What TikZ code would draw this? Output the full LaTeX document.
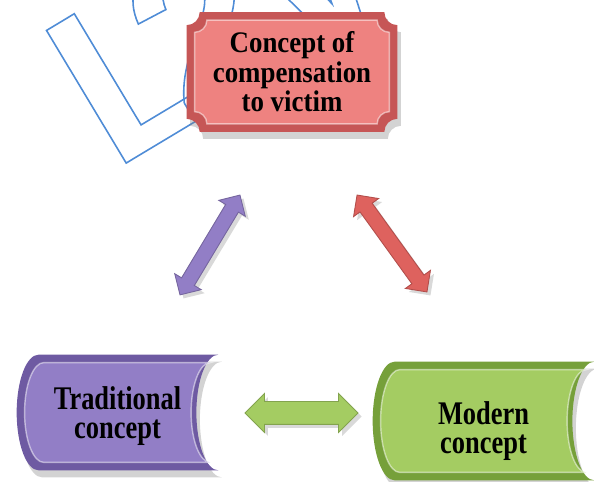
\documentclass[tikz,border=0pt]{standalone}
\usepackage{fontspec}
\setmainfont{Liberation Serif}
\newfontfamily\plaquefont[FakeStretch=0.9]{Liberation Serif}
\newfontfamily\tabfont[FakeStretch=0.8]{Liberation Serif}
\newfontfamily\markfont{Liberation Sans}
\usetikzlibrary{calc,shapes.arrows,shadows,backgrounds}
\pgfdeclarelayer{mark}
\pgfsetlayers{mark,background,main}

\definecolor{plaquerim}{RGB}{198,86,86}
\definecolor{plaquefill}{RGB}{238,130,128}
\definecolor{arrowred}{RGB}{222,98,94}
\definecolor{purplerim}{RGB}{110,90,162}
\definecolor{purplefill}{RGB}{146,126,198}
\definecolor{greenrim}{RGB}{118,160,58}
\definecolor{greenfill}{RGB}{164,204,98}
\definecolor{markblue}{RGB}{80,140,215}

% plaque outline: node, inset, corner radius
\newcommand{\plaquepath}[3]{let \p1=($(#1.south west)+(#2,#2)$), \p2=($(#1.north east)-(#2,#2)$) in
  (\x1+#3,\y2) -- (\x2-#3,\y2) arc[start angle=180,end angle=270,radius=#3]
  -- (\x2,\y1+#3) arc[start angle=90,end angle=180,radius=#3]
  -- (\x1+#3,\y1) arc[start angle=0,end angle=90,radius=#3]
  -- (\x1,\y2-#3) arc[start angle=270,end angle=360,radius=#3] -- cycle}
% tab outline (convex left, concave right): node, inset, bulge
\newcommand{\tabpath}[3]{let \p1=($(#1.south west)+(#2,#2)$), \p2=($(#1.north east)-(#2,#2)$), \n1={0.5*(\y2-\y1)} in
  (\x1+#3,\y2) -- (\x2,\y2) arc[start angle=90,end angle=270,x radius=#3,y radius=\n1]
  -- (\x1+#3,\y1) arc[start angle=270,end angle=90,x radius=#3,y radius=\n1] -- cycle}

\begin{document}
\begin{tikzpicture}[
    x=0.02cm,
    y=0.02cm,
    plaque/.style={
        minimum width=4.2cm,
        minimum height=2.38cm,
        inner sep=0pt,
        align=center,
        font=\plaquefont\bfseries\fontsize{17}{16.8}\selectfont
    },
    tab/.style={
        inner sep=0pt,
        align=center,
        font=\tabfont\bfseries\fontsize{18.8}{16.5}\selectfont
    },
    darrow/.style={
        double arrow,
        draw=#1!80!black,
        fill=#1,
        line width=0.5pt,
        double arrow head extend=0.16cm,
        drop shadow={shadow xshift=2pt, shadow yshift=-2pt, opacity=.3}
    },
    shade/.style={drop shadow={shadow xshift=2pt, shadow yshift=-4pt, opacity=.35}},
    watermark/.style={
        anchor=base west,
        inner sep=0pt,
        rotate=31,
        text=markblue,
        font=\markfont\bfseries\fontsize{128}{128}\selectfont
    }
]
    \useasboundingbox (0,0) rectangle (594,482);

    % Watermark
    \begin{pgfonlayer}{mark}
    \node[watermark] (mark) at (113,311) {\special{pdf:literal direct 1 Tr 0.9 w 0.31 0.55 0.84 RG}L\kern-0.22em 2W\special{pdf:literal direct 0 Tr}};
    \end{pgfonlayer}

    % Concepts
    \node[plaque] (victim) at (292,410) {Concept of\\compensation\\to victim};
    \node[tab, minimum width=4.02cm, minimum height=2.3cm] (trad) at (117.5,69.5) {\rule{0pt}{17.3pt}Traditional\\concept};
    \node[tab, minimum width=4.42cm, minimum height=2.36cm] (modern) at (483.5,61) {\rule{0pt}{25pt}Modern\\concept};

    % Bevelled boxes
    \begin{scope}[on background layer]
        \fill[plaquerim, shade] \plaquepath{victim}{0pt}{7.4pt};
        \fill[plaquefill] \plaquepath{victim}{4.5pt}{7pt};
        \draw[white, opacity=.5, line width=0.8pt] \plaquepath{victim}{4.5pt}{7pt};
        \fill[purplerim, shade] \tabpath{trad}{0pt}{12.5pt};
        \fill[purplefill] \tabpath{trad}{4.5pt}{11pt};
        \draw[white, opacity=.5, line width=0.8pt] \tabpath{trad}{4.5pt}{11pt};
        \fill[greenrim, shade] \tabpath{modern}{0pt}{12.5pt};
        \fill[greenfill] \tabpath{modern}{4.5pt}{11pt};
        \draw[white, opacity=.5, line width=0.8pt] \tabpath{modern}{4.5pt}{11pt};
    \end{scope}

    % Links
    \node[darrow=purplefill, inner sep=0.14cm, rotate=59, minimum height=2.33cm] (left) at (210,237) {};
    \node[darrow=arrowred, inner sep=0.14cm, rotate=-54.2, minimum height=2.39cm] (right) at (392,238.5) {};
    \node[darrow=greenfill, inner sep=0.22cm, minimum height=2.26cm] (bottom) at (301.5,69) {};

\end{tikzpicture}
\end{document}
